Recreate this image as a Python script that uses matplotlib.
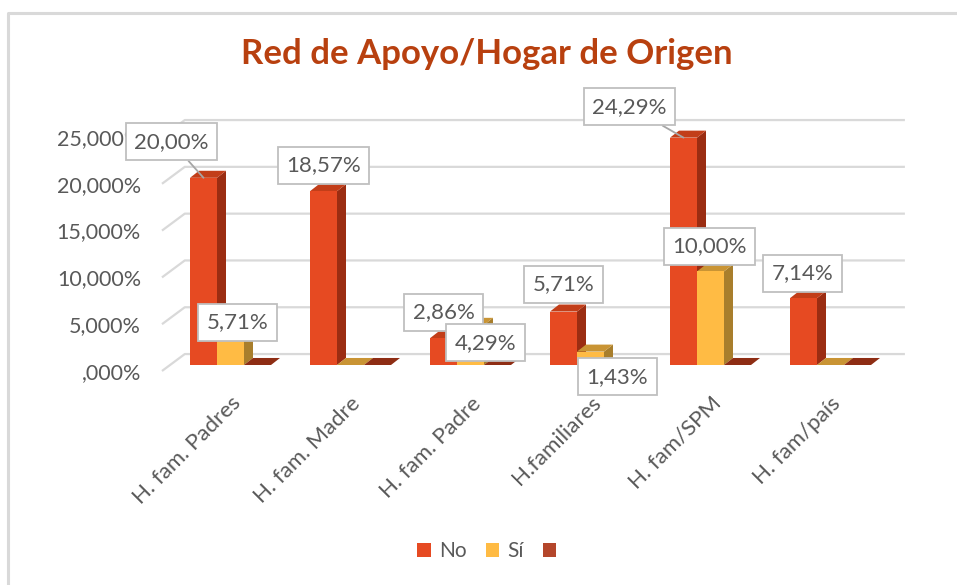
import matplotlib
matplotlib.use("Agg")
import matplotlib.pyplot as plt
import numpy as np
from matplotlib.patches import Polygon, Patch
from matplotlib.lines import Line2D

plt.rcParams['font.family'] = ['Lato', 'DejaVu Sans']

# data (percent)
categories = ['H. fam. Padres', 'H. fam. Madre', 'H. fam. Padre',
              'H.familiares', 'H. fam/SPM', 'H. fam/país']
no_vals = [20.00, 18.57, 2.86, 5.71, 24.29, 7.14]
si_vals = [5.71, 0.0, 4.29, 1.43, 10.00, 0.0]
third_vals = [0.0, 0.0, 0.0, 0.0, 0.0, 0.0]
series_names = ['No', 'Sí', '']
y_ticks = [0, 5, 10, 15, 20, 25]
y_labels = [',000%', '5,000%', '10,000%', '15,000%', '20,000%', '25,000%']

# colours: front, side, top
face_cols = [('#E64A22', '#9B2D12', '#C23E19'),
             ('#FFBB44', '#A87E2C', '#C99434'),
             ('#B4452A', '#7A2E1B', '#8E2D14')]
legend_cols = ['#E64A22', '#FFBB44', '#B4462B']
grey = '#595959'
grid_col = '#D9D9D9'

W, H = 957, 585
fig = plt.figure(figsize=(W / 100, H / 100), dpi=100)

# axes placed in pixels: 120 px per category, 9.36 px per percent
px_x0, px_x1, px_top, px_bot = 150, 920, 95, 375
ax = fig.add_axes([px_x0 / W, 1 - px_bot / H, (px_x1 - px_x0) / W, (px_bot - px_top) / H])
ax.set_xlim((px_x0 - 230.5) / 120, (px_x1 - 230.5) / 120)
ax.set_ylim((365 - px_bot) / 9.36, (365 - px_top) / 9.36)
for s in ax.spines.values():
    s.set_visible(False)

bw = 0.225           # bar width
ddx, ddy = 0.075, 0.75   # 3d depth of the bars
wall_dx, wall_dy = 0.19, 1.17  # back wall offset
side_x0, side_dy = -0.571, -0.64

# back wall gridlines + side diagonals
for v in y_ticks:
    ax.plot([side_x0, side_x0 + wall_dx, 5.62],
            [v + side_dy, v + wall_dy, v + wall_dy],
            color=grid_col, lw=1.6, zorder=0.5, solid_capstyle='butt')

def bar3d(x0, h, cols):
    x1 = x0 + bw
    front, side, top = cols
    ax.add_patch(Polygon([(x1, 0), (x1 + ddx, ddy), (x1 + ddx, h + ddy), (x1, h)],
                         closed=True, fc=side, ec='none', zorder=1))
    ax.add_patch(Polygon([(x0, h), (x0 + ddx, h + ddy), (x1 + ddx, h + ddy), (x1, h)],
                         closed=True, fc=top, ec='none', zorder=1))
    if h > 0:
        ax.add_patch(Polygon([(x0, 0), (x1, 0), (x1, h), (x0, h)],
                             closed=True, fc=front, ec='none', zorder=1))

all_vals = [no_vals, si_vals, third_vals]
for i in range(len(categories)):
    for k, vals in enumerate(all_vals):
        bar3d(i - 1.5 * bw + k * bw, vals[i], face_cols[k])

# data labels (offsets in pixels from top of bar front)
label_offsets = {
    (0, 0): (-32, 36), (0, 1): (0, 26), (0, 2): (0, 26), (0, 3): (0, 27),
    (0, 4): (-54, 31), (0, 5): (-1, 25),
    (1, 0): (7, -11), (1, 2): (15, -18), (1, 3): (27, -25), (1, 4): (-1, 25),
}
leaders = [(0, 0), (0, 4)]
for (k, i), off in label_offsets.items():
    v = all_vals[k][i]
    xc = i - 1.5 * bw + k * bw + bw / 2
    txt = f'{v:.2f}%'.replace('.', ',')
    arrow = None
    if (k, i) in leaders:
        arrow = dict(arrowstyle='-', color='#A6A6A6', lw=1.3, shrinkA=0, shrinkB=0)
    ax.annotate(txt, xy=(xc, v), xytext=off, textcoords='offset pixels',
                ha='center', va='center', fontsize=16, color=grey, zorder=5,
                bbox=dict(boxstyle='square,pad=0.38', fc='white', ec='#BFBFBF', lw=1.3),
                arrowprops=arrow)

# y tick labels sit at the front of the side wall
ax.set_yticks(np.array(y_ticks) + side_dy, y_labels)
ax.tick_params(axis='y', length=0, pad=6.5, labelsize=15.5, labelcolor=grey)
ax.set_xticks(range(len(categories)), categories)
ax.tick_params(axis='x', length=0, pad=13, labelsize=16, labelcolor=grey)
for lab in ax.get_xticklabels():
    lab.set_rotation(45)
    lab.set_ha('right')
    lab.set_va('top')
    lab.set_rotation_mode('anchor')

fig.text(486.5 / W, 1 - 64 / H, 'Red de Apoyo/Hogar de Origen', ha='center',
         va='baseline', fontsize=25, fontweight='bold', color='#B8400F')

handles = [Patch(fc=c, ec='none') for c in legend_cols]
fig.legend(handles, series_names, loc='center', bbox_to_anchor=(491 / W, 1 - 551 / H),
           ncol=3, frameon=False, fontsize=15, handlelength=0.65, handleheight=0.65,
           handletextpad=0.4, columnspacing=0.9, labelcolor=grey)

# chart area border (cropped on right/bottom)
fig.add_artist(Line2D([8 / W, 8 / W, 1], [0, 1 - 13 / H, 1 - 13 / H],
                      transform=fig.transFigure, color=grid_col, lw=2.2))

fig.savefig('out.png', dpi=100)
